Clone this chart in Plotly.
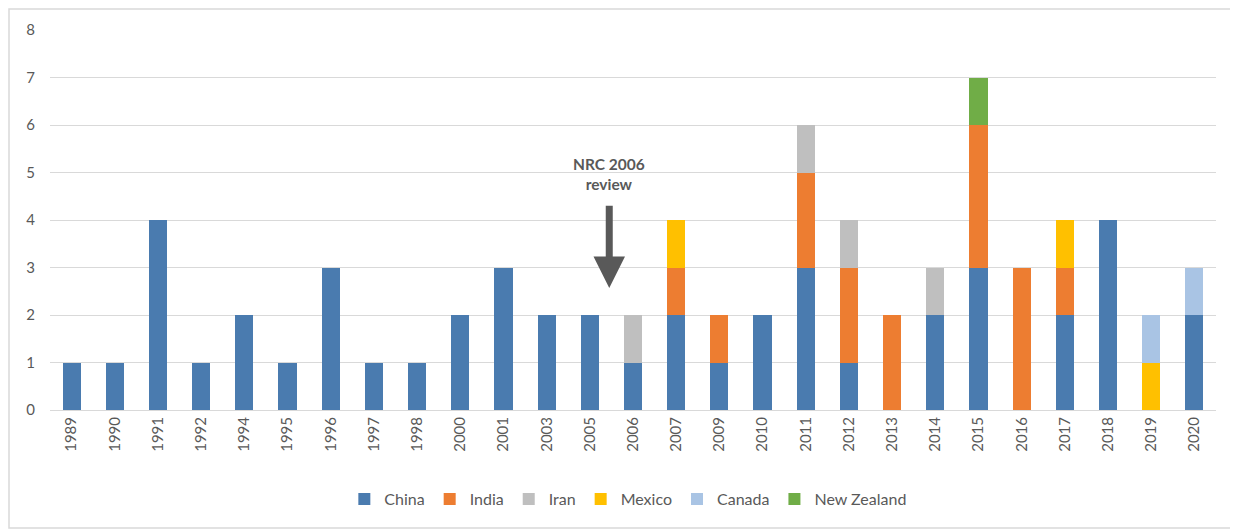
import plotly.graph_objects as go

years = ["1989","1990","1991","1992","1994","1995","1996","1997","1998","2000",
         "2001","2003","2005","2006","2007","2009","2010","2011","2012","2013",
         "2014","2015","2016","2017","2018","2019","2020"]
china  = [1,1,4,1,2,1,3,1,1,2,3,2,2,1,2,1,2,3,1,0,2,3,0,2,4,0,2]
india  = [0,0,0,0,0,0,0,0,0,0,0,0,0,0,1,1,0,2,2,2,0,3,3,1,0,0,0]
iran   = [0,0,0,0,0,0,0,0,0,0,0,0,0,1,0,0,0,1,1,0,1,0,0,0,0,0,0]
mexico = [0,0,0,0,0,0,0,0,0,0,0,0,0,0,1,0,0,0,0,0,0,0,0,1,0,1,0]
canada = [0,0,0,0,0,0,0,0,0,0,0,0,0,0,0,0,0,0,0,0,0,0,0,0,0,1,1]
nz     = [0,0,0,0,0,0,0,0,0,0,0,0,0,0,0,0,0,0,0,0,0,1,0,0,0,0,0]

series = [("China", china, "#4A7BAF"), ("India", india, "#ED7D31"),
          ("Iran", iran, "#BFBFBF"), ("Mexico", mexico, "#FFC000"),
          ("Canada", canada, "#A9C4E4"), ("New Zealand", nz, "#70AD47")]

font = "Lato, 'Open Sans', sans-serif"
fig = go.Figure()
for name, vals, col in series:
    fig.add_trace(go.Bar(x=years, y=vals, name=name, marker_color=col,
                         marker_line_width=0))

fig.update_layout(
    barmode="stack", bargap=0.58,
    width=1230, height=523,
    margin=dict(l=42, r=22, t=22, b=121),
    plot_bgcolor="white", paper_bgcolor="white",
    font=dict(family=font, size=15, color="#595959"),
    legend=dict(orientation="h", x=0.496, xanchor="center", y=-0.19, yanchor="top",
                font=dict(size=16, color="#595959"), traceorder="normal",
                itemwidth=30),
    xaxis=dict(type="category", tickangle=-90, showgrid=False, ticks="",
               showline=True, linecolor="#D9D9D9", linewidth=1,
               tickfont=dict(size=15, color="#595959")),
    yaxis=dict(range=[0, 8], dtick=1, showgrid=True, gridcolor="#D9D9D9",
               gridwidth=1, zeroline=False, ticks="", ticklabelstandoff=14,
               tickfont=dict(size=15, color="#595959")),
    showlegend=True,
)

fig.add_annotation(x=12.45, y=2.57, ax=12.45, ay=4.33, xref="x", yref="y",
                   axref="x", ayref="y", text="", showarrow=True,
                   arrowhead=2, arrowsize=0.9, arrowwidth=7, arrowcolor="#595959")
fig.add_annotation(x=12.45, y=4.52, xref="x", yref="y", yanchor="bottom",
                   text="<b>NRC 2006<br>review</b>", showarrow=False,
                   font=dict(size=15.5, color="#595959", family=font))

fig.add_shape(type="rect", xref="paper", yref="paper",
              x0=-41/1166, x1=1+17/1166, y0=-118/380, y1=1+21/380,
              line=dict(color="#D9D9D9", width=1.5), fillcolor="rgba(0,0,0,0)",
              layer="below")

fig.write_html("out.html")
